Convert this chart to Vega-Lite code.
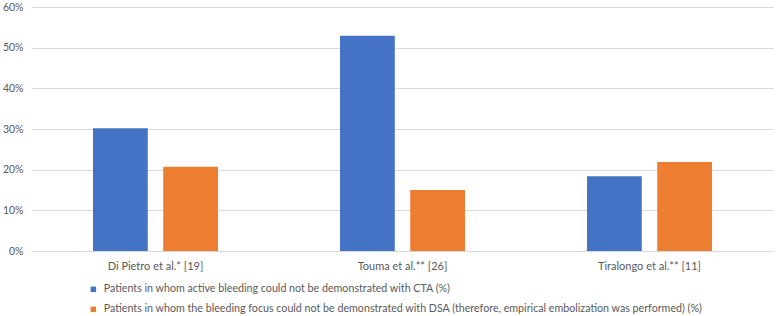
{
  "$schema": "https://vega.github.io/schema/vega-lite/v6.json",
  "autosize": {"type": "none"},
  "padding": {"left": 32, "top": 7, "right": 3, "bottom": 65},
  "width": 741,
  "height": 244,
  "background": "white",
  "config": {"view": {"stroke": null}, "font": "Lato"},
  "data": {"values": [
    {"study": "Di Pietro et al.* [19]", "series": "Patients in whom active bleeding could not be demonstrated with CTA (%)", "value": 0.302},
    {"study": "Di Pietro et al.* [19]", "series": "Patients in whom the bleeding focus could not be demonstrated with DSA (therefore, empirical embolization was performed) (%)", "value": 0.207},
    {"study": "Touma et al.** [26]", "series": "Patients in whom active bleeding could not be demonstrated with CTA (%)", "value": 0.529},
    {"study": "Touma et al.** [26]", "series": "Patients in whom the bleeding focus could not be demonstrated with DSA (therefore, empirical embolization was performed) (%)", "value": 0.150},
    {"study": "Tiralongo et al.** [11]", "series": "Patients in whom active bleeding could not be demonstrated with CTA (%)", "value": 0.184},
    {"study": "Tiralongo et al.** [11]", "series": "Patients in whom the bleeding focus could not be demonstrated with DSA (therefore, empirical embolization was performed) (%)", "value": 0.219}
  ]},
  "mark": {"type": "bar"},
  "encoding": {
    "x": {
      "field": "study", "type": "nominal", "sort": null,
      "scale": {"paddingInner": 0.494, "paddingOuter": 0.247},
      "axis": {"title": null, "labelAngle": 0, "ticks": false, "domain": true, "domainColor": "#d9d9d9", "labelColor": "#595959", "labelFontSize": 11, "labelPadding": 9, "grid": false}
    },
    "xOffset": {
      "field": "series", "type": "nominal",
      "scale": {"paddingInner": 0.22, "paddingOuter": 0}
    },
    "y": {
      "field": "value", "type": "quantitative",
      "scale": {"domain": [0, 0.6], "nice": false},
      "axis": {"title": null, "format": ".0%", "values": [0, 0.1, 0.2, 0.3, 0.4, 0.5, 0.6], "domain": false, "ticks": false, "gridColor": "#d9d9d9", "labelColor": "#595959", "labelFontSize": 10.5, "labelPadding": 9}
    },
    "color": {
      "field": "series", "type": "nominal",
      "scale": {"domain": ["Patients in whom active bleeding could not be demonstrated with CTA (%)", "Patients in whom the bleeding focus could not be demonstrated with DSA (therefore, empirical embolization was performed) (%)"], "range": ["#4472C4", "#ED7D31"]},
      "legend": {"title": null, "orient": "none", "legendX": 56, "legendY": 277, "direction": "vertical", "symbolType": "square", "symbolSize": 30, "labelFontSize": 10.7, "labelColor": "#595959", "labelLimit": 800, "rowPadding": 8, "labelOffset": 5, "symbolStrokeWidth": 0}
    }
  }
}
